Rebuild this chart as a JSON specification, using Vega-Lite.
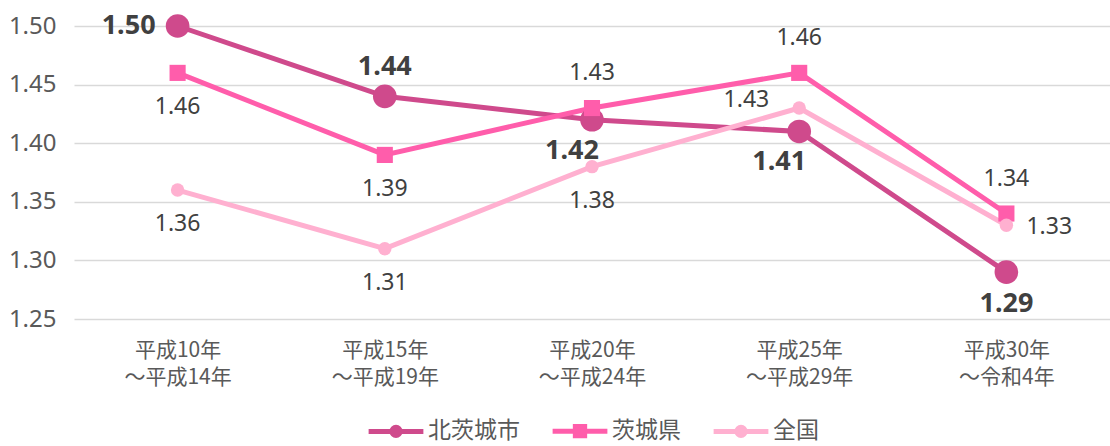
{
  "$schema": "https://vega.github.io/schema/vega-lite/v6.json",
  "width": 1110,
  "height": 446,
  "autosize": {"type": "fit", "contains": "padding"},
  "padding": {"top": 12, "left": 8, "right": 0, "bottom": 0},
  "config": {
    "view": {"stroke": null},
    "font": "Noto Sans CJK JP",
    "legend": {"layout": {"bottom": {"anchor": "middle"}}}
  },
  "data": {
    "values": [
      {"s": "北茨城市", "c": "平成10年～平成14年", "i": 0, "v": 1.50},
      {"s": "北茨城市", "c": "平成15年～平成19年", "i": 1, "v": 1.44},
      {"s": "北茨城市", "c": "平成20年～平成24年", "i": 2, "v": 1.42},
      {"s": "北茨城市", "c": "平成25年～平成29年", "i": 3, "v": 1.41},
      {"s": "北茨城市", "c": "平成30年～令和4年", "i": 4, "v": 1.29},
      {"s": "茨城県", "c": "平成10年～平成14年", "i": 0, "v": 1.46},
      {"s": "茨城県", "c": "平成15年～平成19年", "i": 1, "v": 1.39},
      {"s": "茨城県", "c": "平成20年～平成24年", "i": 2, "v": 1.43},
      {"s": "茨城県", "c": "平成25年～平成29年", "i": 3, "v": 1.46},
      {"s": "茨城県", "c": "平成30年～令和4年", "i": 4, "v": 1.34},
      {"s": "全国", "c": "平成10年～平成14年", "i": 0, "v": 1.36},
      {"s": "全国", "c": "平成15年～平成19年", "i": 1, "v": 1.31},
      {"s": "全国", "c": "平成20年～平成24年", "i": 2, "v": 1.38},
      {"s": "全国", "c": "平成25年～平成29年", "i": 3, "v": 1.43},
      {"s": "全国", "c": "平成30年～令和4年", "i": 4, "v": 1.33}
    ]
  },
  "encoding": {
    "x": {
      "field": "c", "type": "nominal", "sort": null, "title": null,
      "scale": {"paddingInner": 0, "paddingOuter": 0},
      "axis": {
        "labelAngle": 0, "domain": false, "ticks": false, "labelPadding": 20,
        "labelFontSize": 21, "labelColor": "#595959", "labelFont": "Noto Sans CJK JP",
        "labelLineHeight": 27,
        "labelExpr": "[split(datum.label,'～')[0], '～' + split(datum.label,'～')[1]]"
      }
    },
    "y": {
      "field": "v", "type": "quantitative", "title": null,
      "scale": {"domain": [1.25, 1.50], "zero": false, "nice": false},
      "axis": {
        "values": [1.25, 1.30, 1.35, 1.40, 1.45, 1.50], "format": ".2f",
        "domain": false, "ticks": false, "labelPadding": 18,
        "labelFontSize": 24, "labelColor": "#595959",
        "labelFont": "Noto Sans",
        "gridColor": "#d9d9d9", "gridWidth": 1.5
      }
    }
  },
  "layer": [
    {
      "mark": {"type": "line", "strokeWidth": 5},
      "encoding": {
        "color": {
          "field": "s", "type": "nominal", "title": null,
          "scale": {"domain": ["北茨城市", "茨城県", "全国"], "range": ["#CF4A8C", "#FF5DAB", "#FFB0D0"]},
          "legend": {
            "orient": "bottom", "direction": "horizontal",
            "labelFontSize": 23, "labelColor": "#595959", "labelFont": "Noto Sans CJK JP",
            "symbolSize": 3000, "symbolStrokeWidth": 5, "labelOffset": 2, "columnPadding": 22,
            "offset": 14,
            "encode": {
              "symbols": {
                "update": {
                  "shape": {"signal": "datum.value === '茨城県' ? 'M-1,0H1M-0.17,-0.17H0.17V0.17H-0.17Z' : 'M-1,0H1M-0.15,0A0.15,0.15 0 1,0 0.15,0A0.15,0.15 0 1,0 -0.15,0Z'"},
                  "fill": {"signal": "scale('color', datum.value)"},
                  "stroke": {"signal": "scale('color', datum.value)"},
                  "size": {"value": 3000}
                }
              }
            }
          }
        },
        "order": {"field": "i"}
      }
    },
    {
      "transform": [{"filter": "datum.s === '北茨城市'"}],
      "mark": {"type": "point", "filled": true, "opacity": 1, "shape": "circle", "size": 560},
      "encoding": {"color": {"field": "s", "type": "nominal"}}
    },
    {
      "transform": [{"filter": "datum.s === '茨城県'"}],
      "mark": {"type": "point", "filled": true, "opacity": 1, "shape": "square", "size": 260},
      "encoding": {"color": {"field": "s", "type": "nominal"}}
    },
    {
      "transform": [{"filter": "datum.s === '全国'"}],
      "mark": {"type": "point", "filled": true, "opacity": 1, "shape": "circle", "size": 180},
      "encoding": {"color": {"field": "s", "type": "nominal"}}
    },
    {
      "transform": [{"filter": "datum.s === '北茨城市' && datum.i === 0"}],
      "mark": {"type": "text", "align": "right", "baseline": "middle", "dx": -22, "fontSize": 27, "fontWeight": "bold", "color": "#404040", "font": "Noto Sans"},
      "encoding": {"text": {"field": "v", "type": "quantitative", "format": ".2f"}}
    },
    {
      "transform": [{"filter": "datum.s === '北茨城市' && datum.i === 1"}],
      "mark": {"type": "text", "align": "center", "baseline": "middle", "dy": -29, "fontSize": 27, "fontWeight": "bold", "color": "#404040", "font": "Noto Sans"},
      "encoding": {"text": {"field": "v", "type": "quantitative", "format": ".2f"}}
    },
    {
      "transform": [{"filter": "datum.s === '北茨城市' && (datum.i === 2 || datum.i === 3)"}],
      "mark": {"type": "text", "align": "center", "baseline": "middle", "dx": -20, "dy": 31, "fontSize": 27, "fontWeight": "bold", "color": "#404040", "font": "Noto Sans"},
      "encoding": {"text": {"field": "v", "type": "quantitative", "format": ".2f"}}
    },
    {
      "transform": [{"filter": "datum.s === '北茨城市' && datum.i === 4"}],
      "mark": {"type": "text", "align": "center", "baseline": "middle", "dy": 32, "fontSize": 27, "fontWeight": "bold", "color": "#404040", "font": "Noto Sans"},
      "encoding": {"text": {"field": "v", "type": "quantitative", "format": ".2f"}}
    },
    {
      "transform": [{"filter": "(datum.s === '茨城県' && datum.i <= 1) || (datum.s === '全国' && datum.i <= 2)"}],
      "mark": {"type": "text", "align": "center", "baseline": "middle", "dy": 34, "fontSize": 23, "color": "#404040", "font": "Noto Sans"},
      "encoding": {"text": {"field": "v", "type": "quantitative", "format": ".2f"}}
    },
    {
      "transform": [{"filter": "datum.s === '茨城県' && datum.i >= 2"}],
      "mark": {"type": "text", "align": "center", "baseline": "middle", "dy": -35, "fontSize": 23, "color": "#404040", "font": "Noto Sans"},
      "encoding": {"text": {"field": "v", "type": "quantitative", "format": ".2f"}}
    },
    {
      "transform": [{"filter": "datum.s === '全国' && datum.i === 3"}],
      "mark": {"type": "text", "align": "right", "baseline": "middle", "dx": -30, "dy": -8, "fontSize": 23, "color": "#404040", "font": "Noto Sans"},
      "encoding": {"text": {"field": "v", "type": "quantitative", "format": ".2f"}}
    },
    {
      "transform": [{"filter": "datum.s === '全国' && datum.i === 4"}],
      "mark": {"type": "text", "align": "left", "baseline": "middle", "dx": 20, "dy": 2, "fontSize": 23, "color": "#404040", "font": "Noto Sans"},
      "encoding": {"text": {"field": "v", "type": "quantitative", "format": ".2f"}}
    }
  ]
}
